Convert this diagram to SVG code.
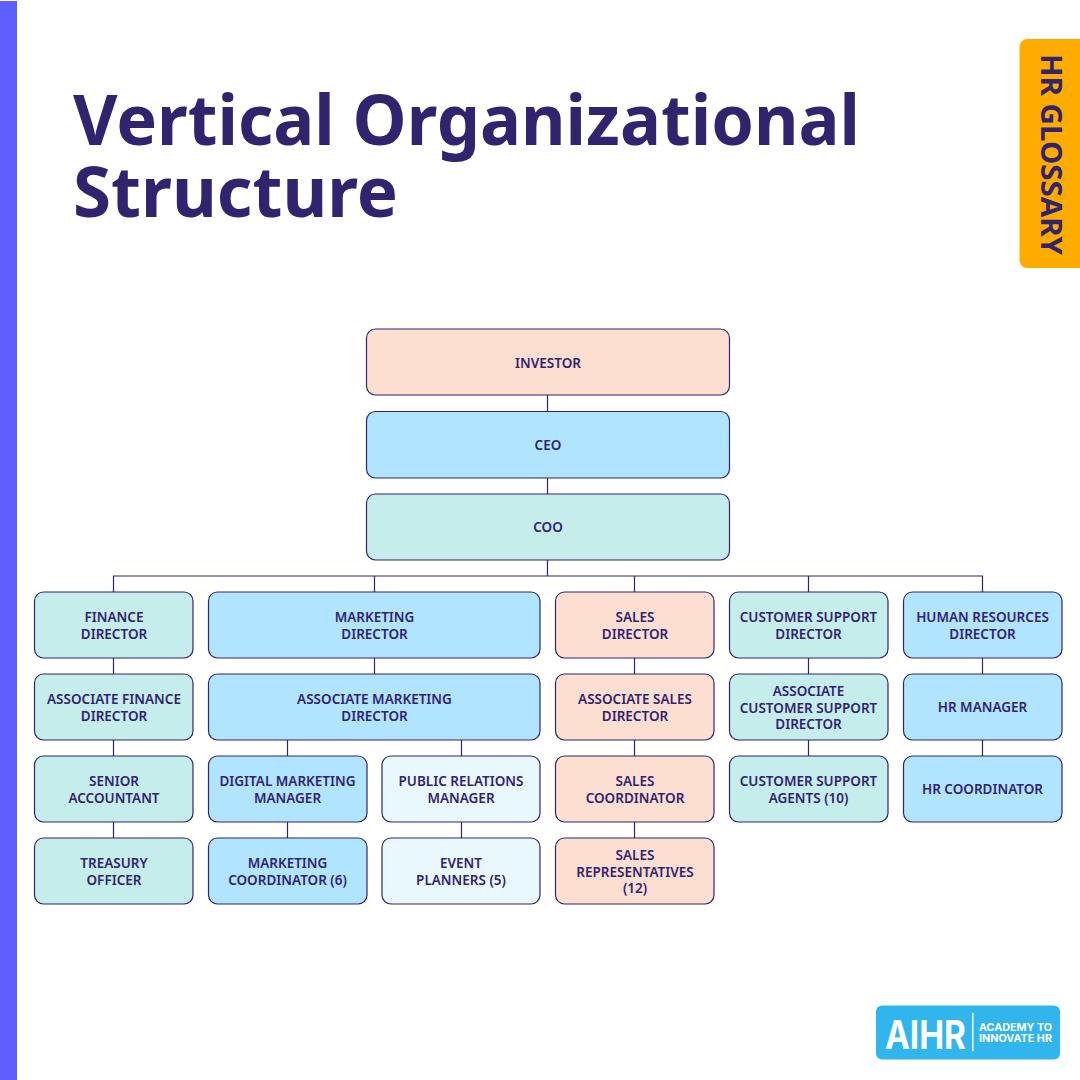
<svg xmlns="http://www.w3.org/2000/svg" width="1080" height="1080" viewBox="0 0 1080 1080">
<style>
.n{stroke:#32236f;stroke-width:1.2}
.o{fill:#fddfd1}.b{fill:#b0e4ff}.g{fill:#c5edeb}.w{fill:#e8f8fd}
.t{font-family:"Noto Sans","Liberation Sans",sans-serif;font-weight:600;font-size:13.5px;fill:#32236f;text-anchor:middle}
#connectors path{fill:none;stroke:#32236f;stroke-width:1.2}
</style>
<rect width="1080" height="1080" fill="#fff"/>
<rect x="0" y="1" width="17" height="1079" fill="#5f5fff"/>
<text font-family="'Noto Sans','Liberation Sans',sans-serif" font-weight="700" font-size="70" fill="#32236f" x="73" y="145" textLength="787" lengthAdjust="spacingAndGlyphs">Vertical Organizational</text>
<text font-family="'Noto Sans','Liberation Sans',sans-serif" font-weight="700" font-size="70" fill="#32236f" x="73" y="217" textLength="325" lengthAdjust="spacingAndGlyphs">Structure</text>
<g id="tag"><path d="M1080 39H1027.500a8 8 0 0 0-8 8V260a8 8 0 0 0 8 8H1080Z" fill="#ffab00"/>
<text transform="translate(1041 54) rotate(90)" font-family="'Noto Sans','Liberation Sans',sans-serif" font-weight="700" font-size="28" fill="#32236f" textLength="201" lengthAdjust="spacingAndGlyphs">HR GLOSSARY</text></g>
<g id="connectors">
<path d="M547.500 395V412M547.500 478V494M547.500 560V576M113.500 592V576H982.500V592M374.500 576V592M634.500 576V592M808.500 576V592"/>
<path d="M113.500 658V674M113.500 740V756M113.500 822V838M374.500 658V674M287.500 740V756M461.500 740V756M287.500 822V838M461.500 822V838M634.500 658V674M634.500 740V756M634.500 822V838M808.500 658V674M808.500 740V756M982.500 658V674M982.500 740V756"/>
</g>
<g id="investor"><rect class="n o" x="366.500" y="329" width="363" height="66" rx="9"/><text class="t" x="548" y="367.500">INVESTOR</text></g>
<g id="ceo"><rect class="n b" x="366.500" y="411.500" width="363" height="66.500" rx="9"/><text class="t" x="548" y="450">CEO</text></g>
<g id="coo"><rect class="n g" x="366.500" y="494" width="363" height="66" rx="9"/><text class="t" x="548" y="532">COO</text></g>
<g id="finance-director"><rect class="n g" x="34.500" y="592" width="158.500" height="66" rx="9"/><text class="t" x="114" y="622">FINANCE</text><text class="t" x="114" y="639">DIRECTOR</text></g>
<g id="assoc-finance"><rect class="n g" x="34.500" y="674" width="158.500" height="66" rx="9"/><text class="t" x="114" y="704">ASSOCIATE FINANCE</text><text class="t" x="114" y="721">DIRECTOR</text></g>
<g id="senior-accountant"><rect class="n g" x="34.500" y="756" width="158.500" height="66" rx="9"/><text class="t" x="114" y="786">SENIOR</text><text class="t" x="114" y="803">ACCOUNTANT</text></g>
<g id="treasury-officer"><rect class="n g" x="34.500" y="838" width="158.500" height="66" rx="9"/><text class="t" x="114" y="868">TREASURY</text><text class="t" x="114" y="885">OFFICER</text></g>
<g id="marketing-director"><rect class="n b" x="208.500" y="592" width="331.500" height="66" rx="9"/><text class="t" x="374.500" y="622">MARKETING</text><text class="t" x="374.500" y="639">DIRECTOR</text></g>
<g id="assoc-marketing"><rect class="n b" x="208.500" y="674" width="331.500" height="66" rx="9"/><text class="t" x="374.500" y="704">ASSOCIATE MARKETING</text><text class="t" x="374.500" y="721">DIRECTOR</text></g>
<g id="digital-marketing"><rect class="n b" x="208.500" y="756" width="158.500" height="66" rx="9"/><text class="t" x="287.500" y="786">DIGITAL MARKETING</text><text class="t" x="287.500" y="803">MANAGER</text></g>
<g id="marketing-coordinator"><rect class="n b" x="208.500" y="838" width="158.500" height="66" rx="9"/><text class="t" x="287.500" y="868">MARKETING</text><text class="t" x="287.500" y="885">COORDINATOR (6)</text></g>
<g id="pr-manager"><rect class="n w" x="382" y="756" width="158" height="66" rx="9"/><text class="t" x="461" y="786">PUBLIC RELATIONS</text><text class="t" x="461" y="803">MANAGER</text></g>
<g id="event-planners"><rect class="n w" x="382" y="838" width="158" height="66" rx="9"/><text class="t" x="461" y="868">EVENT</text><text class="t" x="461" y="885">PLANNERS (5)</text></g>
<g id="sales-director"><rect class="n o" x="555.500" y="592" width="158.500" height="66" rx="9"/><text class="t" x="635" y="622">SALES</text><text class="t" x="635" y="639">DIRECTOR</text></g>
<g id="assoc-sales"><rect class="n o" x="555.500" y="674" width="158.500" height="66" rx="9"/><text class="t" x="635" y="704">ASSOCIATE SALES</text><text class="t" x="635" y="721">DIRECTOR</text></g>
<g id="sales-coordinator"><rect class="n o" x="555.500" y="756" width="158.500" height="66" rx="9"/><text class="t" x="635" y="786">SALES</text><text class="t" x="635" y="803">COORDINATOR</text></g>
<g id="sales-reps"><rect class="n o" x="555.500" y="838" width="158.500" height="66" rx="9"/><text class="t" x="635" y="860">SALES</text><text class="t" x="635" y="876.500">REPRESENTATIVES</text><text class="t" x="635" y="893">(12)</text></g>
<g id="cs-director"><rect class="n g" x="729.500" y="592" width="158.500" height="66" rx="9"/><text class="t" x="808.500" y="622">CUSTOMER SUPPORT</text><text class="t" x="808.500" y="639">DIRECTOR</text></g>
<g id="assoc-cs"><rect class="n g" x="729.500" y="674" width="158.500" height="66" rx="9"/><text class="t" x="808.500" y="696">ASSOCIATE</text><text class="t" x="808.500" y="712.500">CUSTOMER SUPPORT</text><text class="t" x="808.500" y="729">DIRECTOR</text></g>
<g id="cs-agents"><rect class="n g" x="729.500" y="756" width="158.500" height="66" rx="9"/><text class="t" x="808.500" y="786">CUSTOMER SUPPORT</text><text class="t" x="808.500" y="803">AGENTS (10)</text></g>
<g id="hr-director"><rect class="n b" x="903.500" y="592" width="158.500" height="66" rx="9"/><text class="t" x="982.500" y="622">HUMAN RESOURCES</text><text class="t" x="982.500" y="639">DIRECTOR</text></g>
<g id="hr-manager"><rect class="n b" x="903.500" y="674" width="158.500" height="66" rx="9"/><text class="t" x="982.500" y="712">HR MANAGER</text></g>
<g id="hr-coordinator"><rect class="n b" x="903.500" y="756" width="158.500" height="66" rx="9"/><text class="t" x="982.500" y="794">HR COORDINATOR</text></g>
<g id="logo"><rect x="876" y="1005.500" width="184" height="54" rx="6" fill="#30b6ec"/>
<text x="885" y="1049" font-family="'Inter','Liberation Sans',sans-serif" font-weight="700" font-size="39" fill="#fff" textLength="81" lengthAdjust="spacingAndGlyphs">AIHR</text>
<rect x="972" y="1013" width="1.500" height="38" fill="#fff"/>
<text x="979" y="1031" font-family="'Inter','Liberation Sans',sans-serif" font-weight="700" font-size="10.500" fill="#fff" textLength="73" lengthAdjust="spacingAndGlyphs">ACADEMY TO</text>
<text x="979" y="1042" font-family="'Inter','Liberation Sans',sans-serif" font-weight="700" font-size="10.500" fill="#fff" textLength="73" lengthAdjust="spacingAndGlyphs">INNOVATE HR</text></g>
</svg>
